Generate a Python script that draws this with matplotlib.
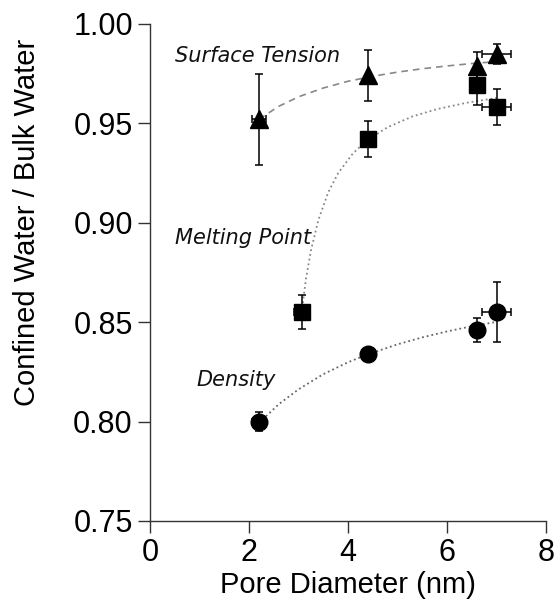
import matplotlib
matplotlib.use("Agg")
import matplotlib.pyplot as plt

# measured points
st_x = [2.2, 4.4, 6.6, 7.0]
st_y = [0.952, 0.974, 0.979, 0.985]
st_yerr = [0.023, 0.013, 0.007, 0.005]
st_xerr = [0.15, 0.0, 0.0, 0.3]

mp_x = [3.06, 4.4, 6.6, 7.0]
mp_y = [0.855, 0.942, 0.969, 0.958]
mp_yerr = [0.0085, 0.009, 0.01, 0.009]
mp_xerr = [0.15, 0.0, 0.0, 0.3]

de_x = [2.2, 4.4, 6.6, 7.0]
de_y = [0.800, 0.834, 0.846, 0.855]
de_yerr = [0.005, 0.0, 0.006, 0.015]
de_xerr = [0.15, 0.0, 0.0, 0.3]

# fit curves
st_fit_x = [2.2, 2.6, 3.0, 3.5, 4.0, 4.5, 5.0, 5.5, 6.0, 6.5, 7.0]
st_fit_y = [0.9520, 0.9585, 0.9633, 0.9677, 0.9711, 0.9736, 0.9757, 0.9774, 0.9788, 0.9800, 0.9810]

mp_fit_x = [3.06, 3.15, 3.25, 3.4, 3.6, 3.8, 4.1, 4.4, 4.8, 5.3, 5.8, 6.4, 7.0]
mp_fit_y = [0.8548, 0.8718, 0.8860, 0.9013, 0.9153, 0.9249, 0.9349, 0.9417, 0.9480, 0.9534, 0.9571, 0.9603, 0.9627]

de_fit_x = [2.2, 2.6, 3.0, 3.5, 4.0, 4.4, 5.0, 5.5, 6.0, 6.5, 7.0]
de_fit_y = [0.7993, 0.8087, 0.8162, 0.8238, 0.8298, 0.8338, 0.8388, 0.8423, 0.8453, 0.8479, 0.8501]

plt.rcParams['font.family'] = ['Liberation Sans', 'DejaVu Sans']

fig = plt.figure(figsize=(5.56, 6.10), dpi=100)
ax = fig.add_axes([0.27, 0.146, 0.712, 0.815])

ax.plot(st_fit_x, st_fit_y, '--', color='#888888', lw=1.2, dashes=(4, 3))
ax.plot(mp_fit_x, mp_fit_y, ':', color='#888888', lw=1.3)
ax.plot(de_fit_x, de_fit_y, ':', color='#666666', lw=1.3)

ebkw = dict(color='black', ecolor='black', elinewidth=1.1, capsize=3, capthick=1.1, ls='none', mec='black')
ax.errorbar(st_x, st_y, yerr=st_yerr, xerr=st_xerr, marker='^', ms=13, **ebkw)
ax.errorbar(mp_x, mp_y, yerr=mp_yerr, xerr=mp_xerr, marker='s', ms=11, **ebkw)
ax.errorbar(de_x, de_y, yerr=de_yerr, xerr=de_xerr, marker='o', ms=12, **ebkw)

lbl = dict(family='DejaVu Sans', style='italic', fontsize=15, color='#111111', va='center')
ax.text(0.50, 0.984, 'Surface Tension', **lbl)
ax.text(0.50, 0.8924, 'Melting Point', **lbl)
ax.text(0.94, 0.8209, 'Density', **lbl)

ax.set_xlim(0, 8)
ax.set_ylim(0.75, 1.00)
ax.set_xticks([0, 2, 4, 6, 8])
ax.set_yticks([0.75, 0.80, 0.85, 0.90, 0.95, 1.00])
ax.set_yticklabels(['0.75', '0.80', '0.85', '0.90', '0.95', '1.00'])

for s in ['top', 'right']:
    ax.spines[s].set_visible(False)
for s in ['left', 'bottom']:
    ax.spines[s].set_linewidth(1.0)
    ax.spines[s].set_color('#333333')
ax.tick_params(direction='out', length=8.5, width=1.0, color='#333333', labelsize=22, pad=4)

ax.set_xlabel('Pore Diameter (nm)', fontsize=21, labelpad=2)
ax.set_ylabel('Confined Water / Bulk Water', fontsize=21)
ax.yaxis.set_label_coords(-0.275, 0.60)

fig.savefig('out.png', dpi=100)
